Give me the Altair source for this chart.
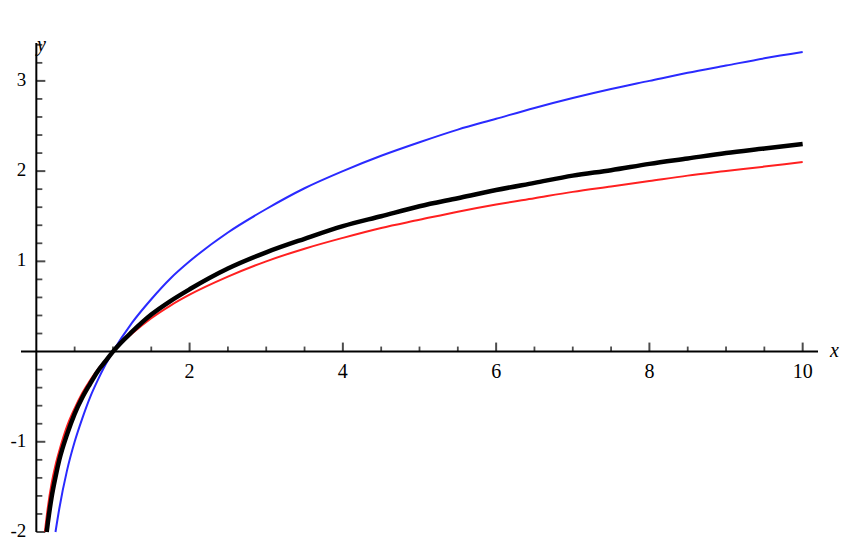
import altair as alt
import pandas as pd

# Curves
x_black = [0.135, 0.15, 0.2, 0.25, 0.3, 0.4, 0.5, 0.6, 0.7, 0.8, 0.9, 1, 1.25, 1.5, 1.75, 2, 2.5, 3, 3.5, 4,
           4.5, 5, 5.5, 6, 6.5, 7, 7.5, 8, 8.5, 9, 9.5, 10]
y_black = [-2.00, -1.90, -1.61, -1.39, -1.20, -0.92, -0.69, -0.51, -0.36, -0.22, -0.11, 0, 0.22, 0.41, 0.56,
           0.69, 0.92, 1.10, 1.25, 1.39, 1.50, 1.61, 1.70, 1.79, 1.87, 1.95, 2.01, 2.08, 2.14, 2.20, 2.25, 2.30]

x_red = [0.111, 0.15, 0.2, 0.25, 0.3, 0.4, 0.5, 0.6, 0.7, 0.8, 0.9, 1, 1.25, 1.5, 1.75, 2, 2.5, 3, 3.5, 4,
         4.5, 5, 5.5, 6, 6.5, 7, 7.5, 8, 8.5, 9, 9.5, 10]
y_red = [-2.00, -1.73, -1.46, -1.26, -1.10, -0.83, -0.63, -0.46, -0.32, -0.20, -0.10, 0, 0.20, 0.37, 0.51,
         0.63, 0.83, 1.00, 1.14, 1.26, 1.37, 1.46, 1.55, 1.63, 1.70, 1.77, 1.83, 1.89, 1.95, 2.00, 2.05, 2.10]

x_blue = [0.25, 0.3, 0.4, 0.5, 0.6, 0.7, 0.8, 0.9, 1, 1.25, 1.5, 1.75, 2, 2.5, 3, 3.5, 4,
          4.5, 5, 5.5, 6, 6.5, 7, 7.5, 8, 8.5, 9, 9.5, 10]
y_blue = [-2.00, -1.74, -1.32, -1.00, -0.74, -0.51, -0.32, -0.15, 0, 0.32, 0.58, 0.81, 1.00, 1.32, 1.58,
          1.81, 2.00, 2.17, 2.32, 2.46, 2.58, 2.70, 2.81, 2.91, 3.00, 3.09, 3.17, 3.25, 3.32]

# Axes
x_domain = [-0.2, 10.2]
y_domain = [-2.0, 3.42]
x_major = [2, 4, 6, 8, 10]
x_major_labels = ["2", "4", "6", "8", "10"]
x_minor = [0.5, 1, 1.5, 2.5, 3, 3.5, 4.5, 5, 5.5, 6.5, 7, 7.5, 8.5, 9, 9.5]
y_major = [-2, -1, 1, 2, 3]
y_major_labels = ["-2", "-1", "1", "2", "3"]
y_minor = [-1.8, -1.6, -1.4, -1.2, -0.8, -0.6, -0.4, -0.2, 0.2, 0.4, 0.6, 0.8,
           1.2, 1.4, 1.6, 1.8, 2.2, 2.4, 2.6, 2.8, 3.2, 3.4]

W, H = 797, 489
xs = alt.Scale(domain=x_domain, nice=False, zero=False)
ys = alt.Scale(domain=y_domain, nice=False, zero=False)
X = lambda f: alt.X(f, type="quantitative", scale=xs, axis=None)
Y = lambda f: alt.Y(f, type="quantitative", scale=ys, axis=None)

curves = pd.concat([
    pd.DataFrame({"x": x_blue, "y": y_blue, "s": "blue"}),
    pd.DataFrame({"x": x_red, "y": y_red, "s": "red"}),
    pd.DataFrame({"x": x_black, "y": y_black, "s": "black"}),
])

def curve(name, color, width):
    return alt.Chart(curves[curves.s == name]).mark_line(
        color=color, strokeWidth=width, interpolate="monotone", clip=False
    ).encode(x=X("x"), y=Y("y"))

axis_color = "#000000"
xaxis = alt.Chart(pd.DataFrame({"x": [x_domain[0]], "x2": [x_domain[1]], "y": [0]})).mark_rule(
    color=axis_color, strokeWidth=2).encode(x=X("x"), x2="x2", y=Y("y"))
yaxis = alt.Chart(pd.DataFrame({"y": [y_domain[0]], "y2": [y_domain[1]], "x": [0]})).mark_rule(
    color=axis_color, strokeWidth=2).encode(y=Y("y"), y2="y2", x=X("x"))

xmaj = alt.Chart(pd.DataFrame({"x": x_major, "y": 0})).mark_tick(
    orient="vertical", color=axis_color, thickness=2, size=9, yOffset=-4.5).encode(x=X("x"), y=Y("y"))
xmin = alt.Chart(pd.DataFrame({"x": x_minor, "y": 0})).mark_tick(
    orient="vertical", color=axis_color, thickness=1.8, size=5, yOffset=-2.5).encode(x=X("x"), y=Y("y"))
ymaj = alt.Chart(pd.DataFrame({"y": y_major, "x": 0})).mark_tick(
    orient="horizontal", color=axis_color, thickness=2, size=9, xOffset=4.5).encode(x=X("x"), y=Y("y"))
ymin = alt.Chart(pd.DataFrame({"y": y_minor, "x": 0})).mark_tick(
    orient="horizontal", color=axis_color, thickness=1.8, size=6, xOffset=3).encode(x=X("x"), y=Y("y"))

font = "Liberation Serif"
xlab = alt.Chart(pd.DataFrame({"x": x_major, "y": 0, "t": x_major_labels})).mark_text(
    font=font, fontSize=20, baseline="top", dy=10, color="black").encode(x=X("x"), y=Y("y"), text="t:N")
ylab = alt.Chart(pd.DataFrame({"y": y_major, "x": 0, "t": y_major_labels})).mark_text(
    font=font, fontSize=19, align="right", baseline="middle", dx=-10, dy=-1, color="black").encode(
    x=X("x"), y=Y("y"), text="t:N")

xtitle = alt.Chart(pd.DataFrame({"x": [x_domain[1]], "y": [0], "t": ["x"]})).mark_text(
    font=font, fontSize=20, fontStyle="italic", align="left", baseline="middle", dx=12, dy=-1,
    color="black").encode(x=X("x"), y=Y("y"), text="t:N")
ytitle = alt.Chart(pd.DataFrame({"x": [0], "y": [y_domain[1]], "t": ["y"]})).mark_text(
    font=font, fontSize=20, fontStyle="italic", align="center", baseline="bottom", dx=5, dy=12,
    color="black").encode(x=X("x"), y=Y("y"), text="t:N")

chart = alt.layer(
    xaxis, yaxis, xmin, xmaj, ymin, ymaj, xlab, ylab, xtitle, ytitle,
    curve("blue", "#2a2aff", 2), curve("red", "#ff2020", 2), curve("black", "black", 4.5),
).properties(
    width=W, height=H,
    view=alt.ViewBackground(strokeOpacity=0, strokeWidth=0),
    autosize=alt.AutoSizeParams(type="none"),
    padding={"left": 13, "top": 35, "right": 22, "bottom": 8},
).configure_view(strokeWidth=0, strokeOpacity=0).configure(background="white")

chart.save("out.html", embed_options={"renderer": "svg", "actions": False})
